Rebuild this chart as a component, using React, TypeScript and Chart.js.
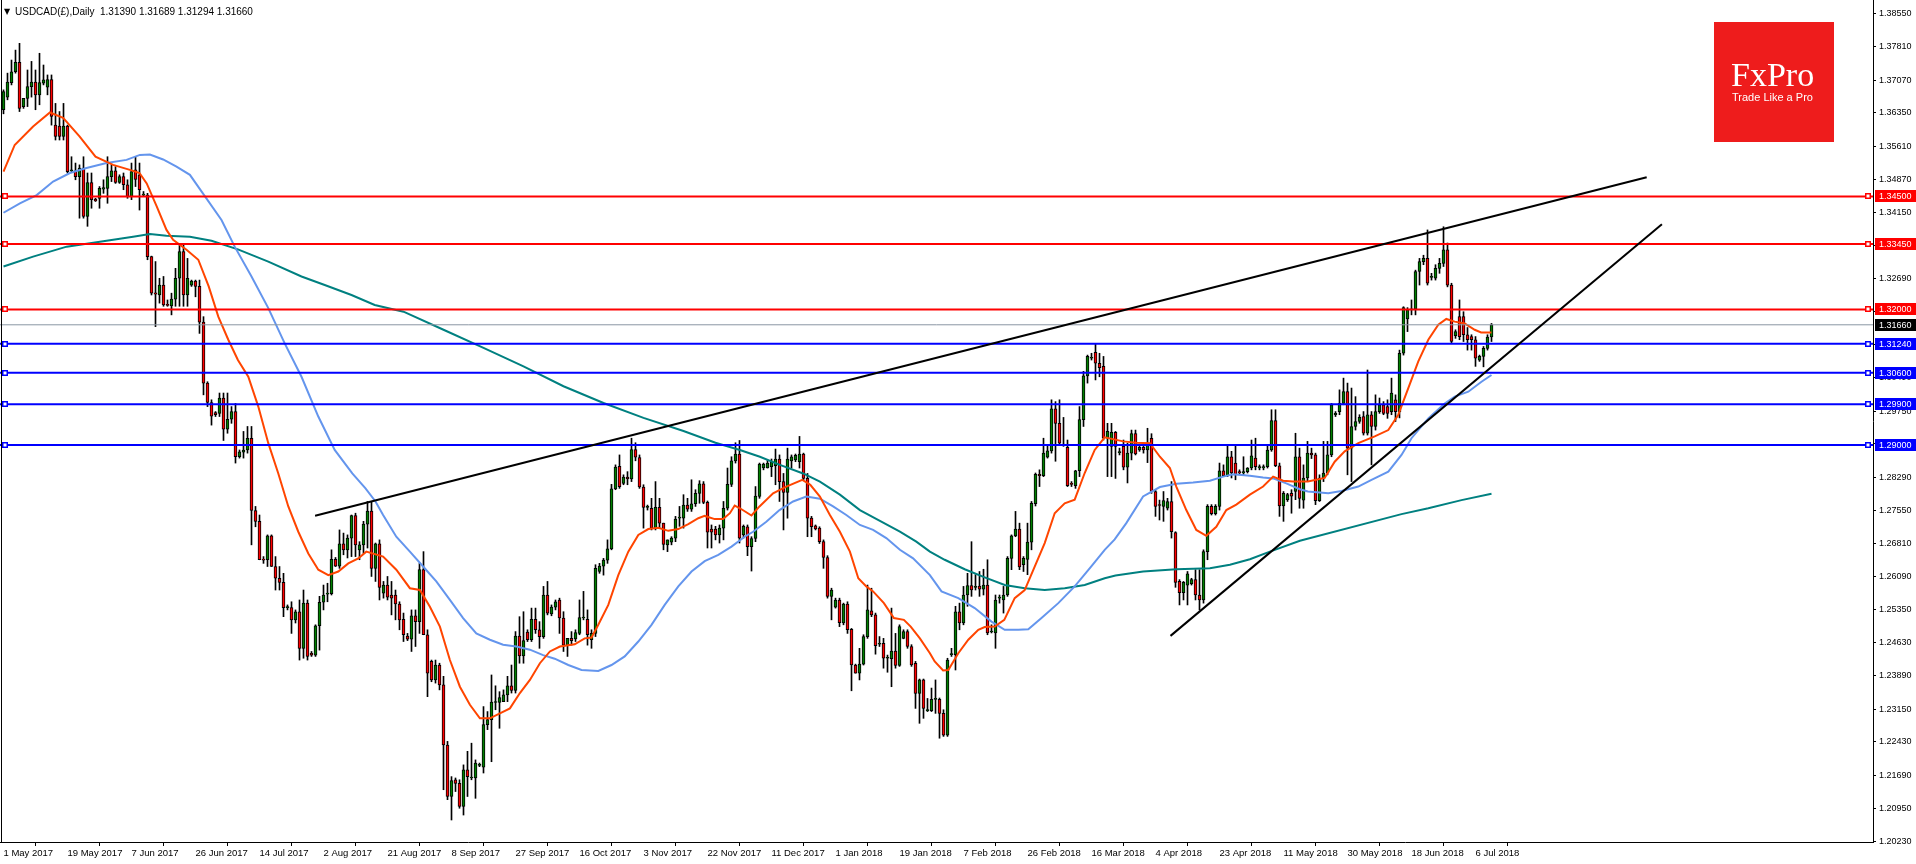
import React, { useEffect, useRef } from "react";
import { Chart, registerables } from "chart.js";

Chart.register(...registerables);

// ---------- Candles (daily USDCAD, 1 May 2017 .. 11 Jul 2018) ----------
const opens = [
  1.3642,1.3670,1.3702,1.3726,1.3747,1.3649,1.3667,1.3693,1.3703,1.3675,
  1.3701,1.3692,1.3709,1.3608,1.3606,1.3583,1.3606,1.3507,1.3507,1.3494,
  1.3513,1.3406,1.3481,1.3444,1.3446,1.3466,1.3468,1.3494,1.3507,1.3481,
  1.3494,1.3476,1.3450,1.3509,1.3498,1.3453,1.3453,1.3317,1.3237,1.3232,
  1.3254,1.3210,1.3208,1.3223,1.3269,1.3328,1.3232,1.3254,1.3263,1.3251,
  1.3172,1.3037,1.2994,1.2972,1.2970,1.3004,1.2935,1.2957,1.2974,1.2874,
  1.2884,1.2889,1.2915,1.2755,1.2731,1.2646,1.2646,1.2699,1.2631,1.2605,
  1.2596,1.2540,1.2540,1.2513,1.2531,1.2450,1.2550,1.2439,1.2435,1.2500,
  1.2552,1.2570,1.2571,1.2647,1.2632,1.2681,1.2668,1.2694,1.2744,1.2668,
  1.2679,1.2725,1.2754,1.2627,1.2681,1.2572,1.2590,1.2568,1.2568,1.2548,
  1.2514,1.2477,1.2470,1.2522,1.2509,1.2624,1.2480,1.2421,1.2380,1.2413,
  1.2369,1.2236,1.2122,1.2159,1.2151,1.2100,1.2181,1.2163,1.2163,1.2191,
  1.2187,1.2281,1.2292,1.2330,1.2330,1.2332,1.2347,1.2367,1.2357,1.2477,
  1.2433,1.2486,1.2469,1.2514,1.2491,1.2476,1.2568,1.2526,1.2541,1.2557,
  1.2517,1.2457,1.2472,1.2471,1.2483,1.2517,1.2514,1.2469,1.2483,1.2620,
  1.2632,1.2645,1.2670,1.2803,1.2853,1.2815,1.2829,1.2825,1.2890,1.2872,
  1.2807,1.2762,1.2760,1.2716,1.2762,1.2727,1.2679,1.2685,1.2694,1.2738,
  1.2738,1.2767,1.2758,1.2770,1.2793,1.2814,1.2773,1.2714,1.2714,1.2701,
  1.2716,1.2760,1.2813,1.2865,1.2880,1.2701,1.2719,1.2675,1.2693,1.2786,
  1.2849,1.2849,1.2852,1.2854,1.2869,1.2819,1.2795,1.2865,1.2867,1.2863,
  1.2880,1.2826,1.2738,1.2721,1.2716,1.2686,1.2651,1.2565,1.2541,1.2557,
  1.2506,1.2548,1.2492,1.2413,1.2395,1.2415,1.2476,1.2533,1.2524,1.2459,
  1.2461,1.2428,1.2427,1.2444,1.2412,1.2472,1.2487,1.2454,1.2417,1.2350,
  1.2380,1.2312,1.2312,1.2337,1.2337,1.2306,1.2258,1.2436,1.2436,1.2531,
  1.2506,1.2568,1.2589,1.2585,1.2588,1.2581,1.2590,1.2486,1.2484,1.2561,
  1.2557,1.2568,1.2649,1.2699,1.2714,1.2635,1.2647,1.2685,1.2770,1.2835,
  1.2832,1.2873,1.2887,1.2980,1.2948,1.2900,1.2895,1.2814,1.2810,1.2843,
  1.2956,1.3053,1.3092,1.3105,1.3081,1.3074,1.2915,1.2897,1.2928,1.2883,
  1.2897,1.2851,1.2882,1.2925,1.2889,1.2895,1.2889,1.2915,1.2797,1.2768,
  1.2764,1.2760,1.2775,1.2706,1.2598,1.2573,1.2590,1.2593,1.2602,1.2568,
  1.2557,1.2664,1.2764,1.2748,1.2764,1.2843,1.2832,1.2874,1.2860,1.2841,
  1.2838,1.2841,1.2849,1.2871,1.2849,1.2849,1.2852,1.2889,1.2954,1.2854,
  1.2765,1.2779,1.2793,1.2797,1.2874,1.2778,1.2827,1.2882,1.2878,1.2777,
  1.2827,1.2838,1.2878,1.2967,1.2974,1.2992,1.3018,1.2893,1.2941,1.2952,
  1.2963,1.2926,1.2967,1.2941,1.2974,1.2989,1.2985,1.2974,1.3000,1.2974,
  1.3103,1.3179,1.3199,1.3201,1.3284,1.3306,1.3313,1.3271,1.3269,1.3291,
  1.3302,1.3332,1.3254,1.3142,1.3184,1.3184,1.3144,1.3140,1.3133,1.3088,
  1.3096,1.3114,1.3139,
];
const highs = [
  1.3686,1.3723,1.3752,1.3774,1.3789,1.3667,1.3730,1.3749,1.3730,1.3767,
  1.3741,1.3719,1.3719,1.3656,1.3638,1.3656,1.3608,1.3538,1.3524,1.3520,
  1.3538,1.3502,1.3502,1.3446,1.3472,1.3487,1.3538,1.3520,1.3516,1.3498,
  1.3502,1.3487,1.3524,1.3538,1.3524,1.3461,1.3457,1.3318,1.3306,1.3269,
  1.3273,1.3221,1.3236,1.3291,1.3343,1.3343,1.3313,1.3265,1.3265,1.3265,
  1.3184,1.3040,1.3000,1.2974,1.3015,1.3015,1.3015,1.2985,1.2992,1.2889,
  1.2930,1.2941,1.2941,1.2764,1.2745,1.2653,1.2701,1.2701,1.2653,1.2631,
  1.2616,1.2546,1.2553,1.2535,1.2557,1.2579,1.2557,1.2443,1.2502,1.2565,
  1.2590,1.2594,1.2668,1.2651,1.2712,1.2705,1.2701,1.2745,1.2749,1.2686,
  1.2731,1.2775,1.2775,1.2683,1.2690,1.2598,1.2609,1.2598,1.2579,1.2553,
  1.2528,1.2483,1.2535,1.2535,1.2638,1.2664,1.2491,1.2424,1.2424,1.2417,
  1.2388,1.2244,1.2166,1.2163,1.2159,1.2192,1.2222,1.2240,1.2203,1.2196,
  1.2321,1.2310,1.2391,1.2367,1.2354,1.2358,1.2388,1.2413,1.2487,1.2520,
  1.2531,1.2491,1.2539,1.2539,1.2509,1.2587,1.2598,1.2546,1.2557,1.2561,
  1.2531,1.2472,1.2487,1.2491,1.2557,1.2576,1.2535,1.2491,1.2635,1.2638,
  1.2649,1.2690,1.2813,1.2856,1.2878,1.2834,1.2841,1.2915,1.2905,1.2878,
  1.2812,1.2767,1.2782,1.2819,1.2782,1.2727,1.2690,1.2697,1.2742,1.2764,
  1.2790,1.2782,1.2823,1.2801,1.2821,1.2819,1.2776,1.2723,1.2720,1.2723,
  1.2775,1.2849,1.2874,1.2905,1.2910,1.2723,1.2723,1.2697,1.2808,1.2860,
  1.2860,1.2867,1.2869,1.2891,1.2878,1.2837,1.2893,1.2878,1.2880,1.2919,
  1.2882,1.2837,1.2742,1.2723,1.2719,1.2690,1.2655,1.2583,1.2561,1.2561,
  1.2550,1.2553,1.2494,1.2415,1.2450,1.2480,1.2590,1.2583,1.2528,1.2476,
  1.2472,1.2435,1.2539,1.2483,1.2502,1.2491,1.2491,1.2458,1.2421,1.2382,
  1.2382,1.2339,1.2362,1.2380,1.2340,1.2314,1.2428,1.2450,1.2543,1.2550,
  1.2587,1.2616,1.2686,1.2613,1.2620,1.2625,1.2646,1.2502,1.2568,1.2568,
  1.2587,1.2653,1.2701,1.2753,1.2727,1.2653,1.2727,1.2775,1.2838,1.2845,
  1.2915,1.2897,1.3000,1.2996,1.3000,1.2961,1.2911,1.2819,1.2844,1.2985,
  1.3063,1.3099,1.3103,1.3124,1.3103,1.3096,1.2948,1.2948,1.2930,1.2893,
  1.2911,1.2904,1.2933,1.2933,1.2900,1.2904,1.2937,1.2925,1.2801,1.2778,
  1.2797,1.2782,1.2819,1.2708,1.2602,1.2598,1.2620,1.2605,1.2624,1.2624,
  1.2668,1.2768,1.2768,1.2768,1.2860,1.2856,1.2900,1.2886,1.2900,1.2845,
  1.2874,1.2850,1.2911,1.2915,1.2856,1.2856,1.2898,1.2978,1.2978,1.2860,
  1.2797,1.2793,1.2801,1.2926,1.2893,1.2856,1.2908,1.2893,1.2882,1.2834,
  1.2908,1.2908,1.2992,1.2974,1.3022,1.3048,1.3037,1.3026,1.3007,1.2967,
  1.2974,1.3066,1.2974,1.3011,1.3004,1.2996,1.3000,1.3048,1.3011,1.3110,
  1.3206,1.3204,1.3221,1.3287,1.3313,1.3320,1.3376,1.3280,1.3299,1.3313,
  1.3383,1.3347,1.3258,1.3155,1.3221,1.3195,1.3160,1.3144,1.3140,1.3099,
  1.3118,1.3144,1.3169,
];
const lows = [
  1.3633,1.3664,1.3697,1.3723,1.3638,1.3645,1.3649,1.3670,1.3642,1.3653,
  1.3697,1.3675,1.3608,1.3575,1.3575,1.3575,1.3502,1.3503,1.3487,1.3402,
  1.3402,1.3384,1.3424,1.3439,1.3424,1.3457,1.3435,1.3483,1.3479,1.3479,
  1.3465,1.3446,1.3443,1.3472,1.3420,1.3450,1.3310,1.3232,1.3162,1.3214,
  1.3207,1.3207,1.3188,1.3207,1.3207,1.3207,1.3207,1.3251,1.3228,1.3147,
  1.3011,1.2985,1.2944,1.2963,1.2963,1.2910,1.2926,1.2948,1.2860,1.2871,
  1.2871,1.2882,1.2679,1.2719,1.2646,1.2638,1.2631,1.2631,1.2579,1.2579,
  1.2520,1.2535,1.2483,1.2506,1.2424,1.2428,1.2424,1.2432,1.2432,1.2446,
  1.2535,1.2553,1.2568,1.2631,1.2627,1.2657,1.2650,1.2653,1.2653,1.2646,
  1.2660,1.2672,1.2609,1.2598,1.2557,1.2561,1.2557,1.2524,1.2513,1.2491,
  1.2465,1.2467,1.2443,1.2454,1.2483,1.2480,1.2343,1.2376,1.2373,1.2358,
  1.2137,1.2115,1.2070,1.2133,1.2096,1.2081,1.2122,1.2159,1.2118,1.2188,
  1.2174,1.2270,1.2199,1.2314,1.2273,1.2332,1.2332,1.2351,1.2351,1.2417,
  1.2417,1.2465,1.2465,1.2483,1.2450,1.2472,1.2524,1.2522,1.2535,1.2483,
  1.2443,1.2432,1.2457,1.2465,1.2480,1.2513,1.2457,1.2450,1.2476,1.2616,
  1.2612,1.2638,1.2668,1.2801,1.2804,1.2812,1.2812,1.2819,1.2865,1.2804,
  1.2716,1.2756,1.2712,1.2712,1.2716,1.2668,1.2664,1.2679,1.2686,1.2720,
  1.2716,1.2753,1.2753,1.2764,1.2771,1.2770,1.2672,1.2672,1.2690,1.2683,
  1.2690,1.2756,1.2808,1.2860,1.2683,1.2694,1.2655,1.2621,1.2686,1.2782,
  1.2845,1.2849,1.2830,1.2812,1.2775,1.2712,1.2738,1.2849,1.2863,1.2849,
  1.2823,1.2697,1.2697,1.2712,1.2682,1.2627,1.2561,1.2513,1.2539,1.2498,
  1.2502,1.2483,1.2356,1.2395,1.2380,1.2413,1.2472,1.2520,1.2437,1.2454,
  1.2406,1.2397,1.2365,1.2406,1.2410,1.2471,1.2450,1.2410,1.2317,1.2284,
  1.2295,1.2310,1.2310,1.2306,1.2251,1.2255,1.2255,1.2432,1.2402,1.2491,
  1.2502,1.2543,1.2565,1.2579,1.2565,1.2568,1.2480,1.2484,1.2450,1.2550,
  1.2528,1.2565,1.2624,1.2697,1.2624,1.2620,1.2613,1.2668,1.2765,1.2808,
  1.2830,1.2871,1.2882,1.2864,1.2900,1.2897,1.2808,1.2808,1.2804,1.2830,
  1.2941,1.3037,1.3088,1.3044,1.3051,1.2911,1.2830,1.2830,1.2826,1.2878,
  1.2845,1.2816,1.2867,1.2878,1.2886,1.2882,1.2861,1.2793,1.2742,1.2734,
  1.2731,1.2756,1.2694,1.2585,1.2546,1.2557,1.2546,1.2590,1.2557,1.2535,
  1.2550,1.2646,1.2745,1.2745,1.2756,1.2830,1.2830,1.2827,1.2823,1.2834,
  1.2834,1.2838,1.2845,1.2845,1.2845,1.2845,1.2849,1.2886,1.2852,1.2742,
  1.2731,1.2775,1.2749,1.2779,1.2760,1.2760,1.2819,1.2870,1.2768,1.2775,
  1.2819,1.2834,1.2874,1.2963,1.2967,1.2989,1.2834,1.2819,1.2933,1.2948,
  1.2922,1.2922,1.2856,1.2933,1.2970,1.2967,1.2959,1.2967,1.2952,1.2960,
  1.3099,1.3151,1.3188,1.3188,1.3254,1.3299,1.3254,1.3265,1.3265,1.3280,
  1.3295,1.3250,1.3125,1.3136,1.3133,1.3129,1.3110,1.3110,1.3074,1.3085,
  1.3073,1.3110,1.3129,
];
const closes = [
  1.3682,1.3703,1.3726,1.3747,1.3645,1.3667,1.3693,1.3703,1.3675,1.3702,
  1.3708,1.3709,1.3627,1.3583,1.3583,1.3606,1.3505,1.3509,1.3494,1.3513,
  1.3406,1.3481,1.3443,1.3440,1.3468,1.3470,1.3494,1.3507,1.3481,1.3494,
  1.3476,1.3450,1.3505,1.3488,1.3465,1.3453,1.3317,1.3236,1.3234,1.3254,
  1.3210,1.3209,1.3223,1.3269,1.3328,1.3232,1.3269,1.3263,1.3251,1.3172,
  1.3037,1.2994,1.2964,1.2967,1.3004,1.2935,1.2957,1.2974,1.2874,1.2885,
  1.2889,1.2915,1.2755,1.2731,1.2646,1.2645,1.2699,1.2631,1.2605,1.2596,
  1.2540,1.2541,1.2513,1.2531,1.2450,1.2550,1.2432,1.2435,1.2500,1.2552,
  1.2568,1.2572,1.2647,1.2632,1.2681,1.2668,1.2694,1.2744,1.2679,1.2679,
  1.2725,1.2754,1.2627,1.2681,1.2585,1.2590,1.2563,1.2561,1.2548,1.2513,
  1.2480,1.2470,1.2522,1.2509,1.2624,1.2480,1.2395,1.2380,1.2413,1.2369,
  1.2236,1.2122,1.2157,1.2151,1.2100,1.2181,1.2166,1.2164,1.2196,1.2192,
  1.2281,1.2292,1.2331,1.2331,1.2341,1.2347,1.2367,1.2357,1.2477,1.2433,
  1.2467,1.2469,1.2514,1.2491,1.2476,1.2568,1.2528,1.2541,1.2553,1.2517,
  1.2457,1.2472,1.2467,1.2485,1.2518,1.2517,1.2480,1.2483,1.2627,1.2632,
  1.2645,1.2670,1.2803,1.2851,1.2808,1.2829,1.2825,1.2890,1.2873,1.2807,
  1.2762,1.2762,1.2716,1.2762,1.2727,1.2680,1.2690,1.2694,1.2736,1.2738,
  1.2767,1.2758,1.2770,1.2793,1.2814,1.2773,1.2707,1.2707,1.2701,1.2716,
  1.2760,1.2813,1.2865,1.2880,1.2694,1.2720,1.2675,1.2693,1.2787,1.2858,
  1.2858,1.2860,1.2863,1.2869,1.2819,1.2795,1.2869,1.2874,1.2877,1.2880,
  1.2826,1.2738,1.2719,1.2714,1.2686,1.2651,1.2565,1.2579,1.2557,1.2507,
  1.2548,1.2491,1.2413,1.2395,1.2415,1.2476,1.2535,1.2524,1.2456,1.2459,
  1.2428,1.2428,1.2444,1.2412,1.2498,1.2487,1.2454,1.2413,1.2350,1.2380,
  1.2317,1.2312,1.2337,1.2338,1.2306,1.2258,1.2424,1.2437,1.2531,1.2506,
  1.2568,1.2589,1.2579,1.2586,1.2581,1.2590,1.2484,1.2487,1.2557,1.2562,
  1.2568,1.2649,1.2699,1.2714,1.2630,1.2649,1.2685,1.2771,1.2835,1.2832,
  1.2882,1.2887,1.2980,1.2948,1.2904,1.2901,1.2810,1.2813,1.2843,1.2956,
  1.3053,1.3096,1.3093,1.3081,1.3071,1.2915,1.2930,1.2928,1.2897,1.2884,
  1.2851,1.2882,1.2925,1.2880,1.2895,1.2889,1.2905,1.2797,1.2764,1.2766,
  1.2777,1.2775,1.2708,1.2596,1.2573,1.2596,1.2615,1.2602,1.2568,1.2557,
  1.2664,1.2764,1.2748,1.2764,1.2843,1.2832,1.2874,1.2838,1.2834,1.2838,
  1.2841,1.2849,1.2876,1.2852,1.2852,1.2852,1.2889,1.2954,1.2854,1.2765,
  1.2793,1.2790,1.2787,1.2874,1.2782,1.2827,1.2882,1.2878,1.2777,1.2827,
  1.2838,1.2878,1.2989,1.2970,1.2992,1.3018,1.2893,1.2941,1.2952,1.2961,
  1.2926,1.2967,1.2941,1.2974,1.2989,1.2970,1.2970,1.3015,1.2974,1.3103,
  1.3204,1.3199,1.3201,1.3284,1.3306,1.3313,1.3258,1.3272,1.3291,1.3302,
  1.3332,1.3254,1.3129,1.3151,1.3140,1.3144,1.3133,1.3133,1.3092,1.3096,
  1.3114,1.3139,1.3166,
];

// ---------- Moving averages (bar index, value) ----------
const fastMaIdx = [0,2.8,7.4,11.6,14.9,19,23,27.4,31.6,34,35.8,38.3,40.75,42.4,45.75,48.7,51.3,53.7,56.2,58.6,61.2,63.7,66.2,68.7,71.2,73.7,76.2,78.7,81.2,83.7,86.2,88.7,90.7,94.9,98.2,101.6,104.1,106.6,109.1,111.6,114.1,116.6,119.1,121.6,124.1,126.6,129.1,131.6,134.1,136.6,139.1,142.8,145.3,147,148.7,151.2,153.7,156.2,158.7,161.2,163.7,166.2,168.7,171.2,173.7,175.3,177.8,179.9,181.6,182.8,184.1,187,189,192.4,195.7,199.7,201.7,204.1,206.6,209.1,211.6,213.7,215.7,217.4,220.1,222.6,225.1,226.8,229.1,231.6,232.8,234.9,236.2,238.7,241.2,243.7,245.3,247.8,250.2,252.8,255.3,257.8,260.3,262.8,265.3,267.8,270.3,272.8,275.3,279.9,283.2,286.6,289.1,291.6,293.2,295.7,298.2,300.7,303.2,305.7,308.2,311.6,314.9,317.4,319.9,322.4,326.1,330.3,332.8,335.3,338.7,342.8,346.2,348.7,351.2,353.7,356.2,358.7,360.7,362.8,365.3,367.8,369.4,372];
const fastMaVal = [1.3505,1.3564,1.3605,1.3636,1.3624,1.3583,1.3538,1.3520,1.3509,1.3502,1.3479,1.3428,1.3376,1.3354,1.3332,1.3310,1.3251,1.3184,1.3133,1.3088,1.3051,1.2985,1.2904,1.2837,1.2764,1.2708,1.2660,1.2624,1.2612,1.2620,1.2638,1.2649,1.2664,1.2653,1.2624,1.2583,1.2579,1.2542,1.2498,1.2424,1.2365,1.2325,1.2295,1.2295,1.2306,1.2317,1.2351,1.2380,1.2417,1.2443,1.2454,1.2459,1.2472,1.2474,1.2502,1.2546,1.2612,1.2664,1.2701,1.2714,1.2717,1.2710,1.2714,1.2725,1.2738,1.2743,1.2736,1.2736,1.2749,1.2766,1.2760,1.2744,1.2764,1.2793,1.2808,1.2823,1.2812,1.2786,1.2745,1.2708,1.2664,1.2605,1.2587,1.2576,1.2550,1.2517,1.2513,1.2498,1.2472,1.2439,1.2421,1.2401,1.2402,1.2439,1.2469,1.2491,1.2497,1.2498,1.2513,1.2561,1.2579,1.2631,1.2683,1.2749,1.2771,1.2779,1.2838,1.2889,1.2917,1.2908,1.2905,1.2904,1.2874,1.2849,1.2808,1.2756,1.2712,1.2699,1.2719,1.2756,1.2768,1.2790,1.2808,1.2830,1.2821,1.2819,1.2819,1.2827,1.2863,1.2886,1.2904,1.2919,1.2933,1.2967,1.3026,1.3085,1.3133,1.3166,1.3179,1.3173,1.3169,1.3155,1.3149,1.3149];

const slowMaIdx = [0,4.1,8.3,12.4,16.6,20.75,25.75,30.75,34.1,36.6,39.9,43.25,46.6,54.5,57.8,62,66.2,70.3,74.5,78.7,82.8,87.2,90.5,93,94.9,98.2,101.6,104.9,108.2,111.6,114.9,118.2,121.6,124.9,128.2,131.6,134.9,137.8,141.2,144.5,148.7,152,155.3,158.7,162,165.3,168.7,172,175.3,178.7,182,185.3,187.4,190.7,194,197.4,200.7,204.1,207.4,210.7,214.1,217.4,220.7,224.1,227.4,231.6,234.5,238.7,242.8,247,250.3,253.7,256.2,259.5,263.7,267.8,271.9,275.3,277.8,280.7,284.9,289.1,293.2,297.4,301.6,304.9,307.4,311.6,314.9,317.4,320.7,324.1,326.1,331.2,334.5,338.7,342,346.2,349.5,352,356.2,360.3,362.8,366.2,369.5,372];
const slowMaVal = [1.3414,1.3435,1.3453,1.3483,1.3502,1.3513,1.3524,1.3531,1.3542,1.3543,1.3532,1.3516,1.3498,1.3398,1.3339,1.3273,1.3203,1.3125,1.3051,1.2963,1.2889,1.2837,1.2804,1.2775,1.2745,1.2697,1.2664,1.2631,1.2598,1.2557,1.2517,1.2483,1.2469,1.2458,1.2454,1.2447,1.2435,1.2427,1.2413,1.2402,1.2400,1.2413,1.2432,1.2465,1.2502,1.2546,1.2587,1.2620,1.2643,1.2657,1.2675,1.2697,1.2708,1.2730,1.2756,1.2775,1.2786,1.2781,1.2764,1.2745,1.2723,1.2712,1.2694,1.2668,1.2649,1.2612,1.2576,1.2561,1.2539,1.2509,1.2491,1.2491,1.2492,1.2517,1.2550,1.2587,1.2631,1.2668,1.2691,1.2727,1.2786,1.2807,1.2814,1.2817,1.2821,1.2830,1.2835,1.2832,1.2828,1.2826,1.2815,1.2802,1.2797,1.2793,1.2798,1.2808,1.2823,1.2841,1.2878,1.2915,1.2959,1.2992,1.3007,1.3018,1.3040,1.3055];

const longMaIdx = [0,7.4,15.8,24.1,32.4,36.6,40.75,46.6,52,58.6,66.2,74.5,80.3,87,92.8,100,110,120,130,140,150,160,170,178,184.1,189.1,194.1,199.9,204.1,209.1,214.1,219.1,224.1,228.2,231.6,235.3,240.3,245.3,250.3,255.3,260.3,265.3,270.3,275.3,278,284.9,293.2,301.6,306.6,311.6,316.6,324.1,349.5,356.2,364.5,372];
const longMaVal = [1.3295,1.3317,1.3339,1.3350,1.3361,1.3367,1.3363,1.3361,1.3352,1.3333,1.3306,1.3273,1.3254,1.3232,1.3210,1.3195,1.3155,1.3115,1.3074,1.3030,1.2993,1.2960,1.2931,1.2905,1.2889,1.2874,1.2856,1.2837,1.2819,1.2790,1.2756,1.2732,1.2708,1.2686,1.2664,1.2646,1.2625,1.2607,1.2590,1.2583,1.2579,1.2583,1.2590,1.2605,1.2611,1.2620,1.2625,1.2627,1.2635,1.2647,1.2664,1.2688,1.2747,1.2760,1.2778,1.2792];

// ---------- Objects ----------
const redLevels = [1.345, 1.3345, 1.32];
const blueLevels = [1.3124, 1.306, 1.299, 1.29];
const bidPrice = 1.3166;
const upperTrendIdx = [77.9, 410.8];
const upperTrendVal = [1.27435, 1.34927];
const lowerTrendIdx = [291.75, 414.6];
const lowerTrendVal = [1.24775, 1.33887];

// ---------- Axes ----------
const priceTicks = [1.3855,1.3781,1.3707,1.3635,1.3561,1.3487,1.3415,1.3341,1.3269,1.3195,1.3123,1.3049,1.2975,1.2903,1.2829,1.2755,1.2681,1.2609,1.2535,1.2463,1.2389,1.2315,1.2243,1.2169,1.2095,1.2023];
const dateTickIdx = [0,16,32,48,64,80,96,112,128,144,160,176,192,208,224,240,256,272,288,304,320,336,352,368];
const dateLabels = ["1 May 2017","19 May 2017","7 Jun 2017","26 Jun 2017","14 Jul 2017","2 Aug 2017","21 Aug 2017","8 Sep 2017","27 Sep 2017","16 Oct 2017","3 Nov 2017","22 Nov 2017","11 Dec 2017","1 Jan 2018","19 Jan 2018","7 Feb 2018","26 Feb 2018","16 Mar 2018","4 Apr 2018","23 Apr 2018","11 May 2018","30 May 2018","18 Jun 2018","6 Jul 2018"];
const headerText = "USDCAD(£),Daily  1.31390 1.31689 1.31294 1.31660";

const X_MIN = -0.875;
const X_MAX = 467.375;
const Y_MIN = 1.20213;
const Y_MAX = 1.38849;
const FONT = '"Liberation Sans", Arial, sans-serif';

export default function App() {
  const ref = useRef<HTMLCanvasElement>(null);

  useEffect(() => {
    document.body.style.margin = "0";
    const canvas = ref.current;
    if (!canvas) return;

    const idx = opens.map((_, i) => i);
    const pts = (xs: number[], ys: number[]) => xs.map((x, k) => ({ x, y: ys[k] }));
    const level = (v: number) => [{ x: X_MIN, y: v }, { x: X_MAX, y: v }];
    const lineDs = (data: any[], color: string, width: number, order: number) => ({
      type: "line" as const,
      data,
      borderColor: color,
      borderWidth: width,
      pointRadius: 0,
      pointHoverRadius: 0,
      fill: false,
      tension: 0,
      order,
    });

    const overlay = {
      id: "mt4overlay",
      beforeDraw(chart: any) {
        const c = chart.ctx;
        c.save();
        c.fillStyle = "#ffffff";
        c.fillRect(0, 0, chart.width, chart.height);
        c.restore();
      },
      afterDraw(chart: any) {
        const c = chart.ctx;
        const ys = chart.scales.y;
        const area = chart.chartArea;
        c.save();
        c.fillStyle = "#000";
        c.fillRect(1, 0, 1, area.bottom);

        const marker = (v: number, color: string) => {
          const py = Math.round(ys.getPixelForValue(v));
          c.fillStyle = "#fff";
          c.strokeStyle = color;
          c.lineWidth = 1.5;
          c.fillRect(2, py - 2.5, 5, 5);
          c.strokeRect(2.75, py - 2.25, 4.5, 4.5);
          c.fillRect(area.right - 8, py - 2.5, 5, 5);
          c.strokeRect(area.right - 7.25, py - 2.25, 4.5, 4.5);
        };
        const box = (v: number, bg: string) => {
          const py = Math.round(ys.getPixelForValue(v));
          c.fillStyle = bg;
          c.fillRect(area.right + 2, py - 6, 41, 12);
          c.fillStyle = "#fff";
          c.font = `9px ${FONT}`;
          c.textAlign = "left";
          c.textBaseline = "middle";
          c.fillText(v.toFixed(5), area.right + 6, py + 0.5);
        };
        redLevels.forEach((v) => marker(v, "#ff0000"));
        blueLevels.forEach((v) => marker(v, "#0000ff"));
        redLevels.forEach((v) => box(v, "#ff0000"));
        blueLevels.forEach((v) => box(v, "#0000ff"));
        box(bidPrice, "#000000");

        c.fillStyle = "#000";
        c.textAlign = "left";
        c.textBaseline = "alphabetic";
        c.font = `8px "DejaVu Sans", sans-serif`;
        c.fillText("\u25BC", 4, 14);
        c.font = `10px ${FONT}`;
        c.fillText(headerText, 15, 15);

        c.fillStyle = "#ee1c1c";
        c.fillRect(1714, 22, 120, 120);
        c.fillStyle = "#fff";
        c.font = `34px "Liberation Serif", "Times New Roman", serif`;
        c.fillText("FxPro", 1731, 86);
        c.font = `11px ${FONT}`;
        c.fillText("Trade Like a Pro", 1732, 101);
        c.restore();
      },
    };

    const chart = new Chart(canvas, {
      type: "bar",
      data: {
        datasets: [
          {
            type: "bar",
            data: idx.map((i) => ({ x: i, y: [Math.min(lows[i], opens[i], closes[i]), Math.max(highs[i], opens[i], closes[i])] })),
            backgroundColor: "#000",
            borderWidth: 0,
            barThickness: 1,
            grouped: false,
            order: 10,
          } as any,
          {
            type: "bar",
            data: idx.map((i) => ({ x: i, y: [opens[i], closes[i]] })),
            backgroundColor: idx.map((i) => (closes[i] >= opens[i] ? "#008000" : "#ff0000")),
            borderColor: "#000",
            borderWidth: 1,
            borderSkipped: false,
            barThickness: 3,
            minBarLength: 1,
            grouped: false,
            order: 9,
          } as any,
          lineDs(pts(longMaIdx, longMaVal), "#008080", 2, 5),
          lineDs(pts(slowMaIdx, slowMaVal), "#6495ed", 2, 4),
          lineDs(pts(fastMaIdx, fastMaVal), "#ff4500", 2, 3),
          lineDs(level(bidPrice), "#8a96a3", 1, 2),
          ...redLevels.map((v) => lineDs(level(v), "#ff0000", 2, 2)),
          ...blueLevels.map((v) => lineDs(level(v), "#0000ff", 2, 2)),
          lineDs(pts(upperTrendIdx, upperTrendVal), "#000", 2, 1),
          lineDs(pts(lowerTrendIdx, lowerTrendVal), "#000", 2, 1),
        ] as any,
      },
      options: {
        animation: false,
        responsive: false,
        maintainAspectRatio: false,
        devicePixelRatio: 1,
        events: [],
        layout: { padding: 0 },
        plugins: { legend: { display: false }, tooltip: { enabled: false } },
        scales: {
          x: {
            type: "linear",
            min: X_MIN,
            max: X_MAX,
            bounds: "data",
            offset: false,
            afterBuildTicks: (s: any) => {
              s.ticks = dateTickIdx.map((v) => ({ value: v }));
            },
            afterFit: (s: any) => {
              s.height = 22;
              s.paddingLeft = 0;
              s.paddingRight = 0;
            },
            ticks: {
              autoSkip: false,
              maxRotation: 0,
              minRotation: 0,
              align: "start",
              padding: 2,
              color: "#000",
              font: { family: FONT, size: 9.5 },
              callback: (_v: any, i: number) => dateLabels[i],
            },
            grid: { display: true, drawOnChartArea: false, drawTicks: true, tickLength: 4, color: "#000" },
            border: { display: true, color: "#000", width: 1 },
          },
          y: {
            type: "linear",
            position: "right",
            min: Y_MIN,
            max: Y_MAX,
            bounds: "data",
            afterBuildTicks: (s: any) => {
              s.ticks = priceTicks.map((v) => ({ value: v }));
            },
            afterFit: (s: any) => {
              s.width = 43;
              s.paddingTop = 0;
              s.paddingBottom = 0;
            },
            ticks: {
              autoSkip: false,
              padding: 3,
              color: "#000",
              font: { family: FONT, size: 9 },
              callback: (v: any) => Number(v).toFixed(5),
            },
            grid: { display: true, drawOnChartArea: false, drawTicks: true, tickLength: 3, color: "#000" },
            border: { display: true, color: "#000", width: 1 },
          },
        },
      } as any,
      plugins: [overlay],
    });

    return () => chart.destroy();
  }, []);

  return (
    <div style={{ width: 1916, height: 864, overflow: "hidden" }}>
      <canvas ref={ref} width={1916} height={864} style={{ display: "block" }} />
    </div>
  );
}
